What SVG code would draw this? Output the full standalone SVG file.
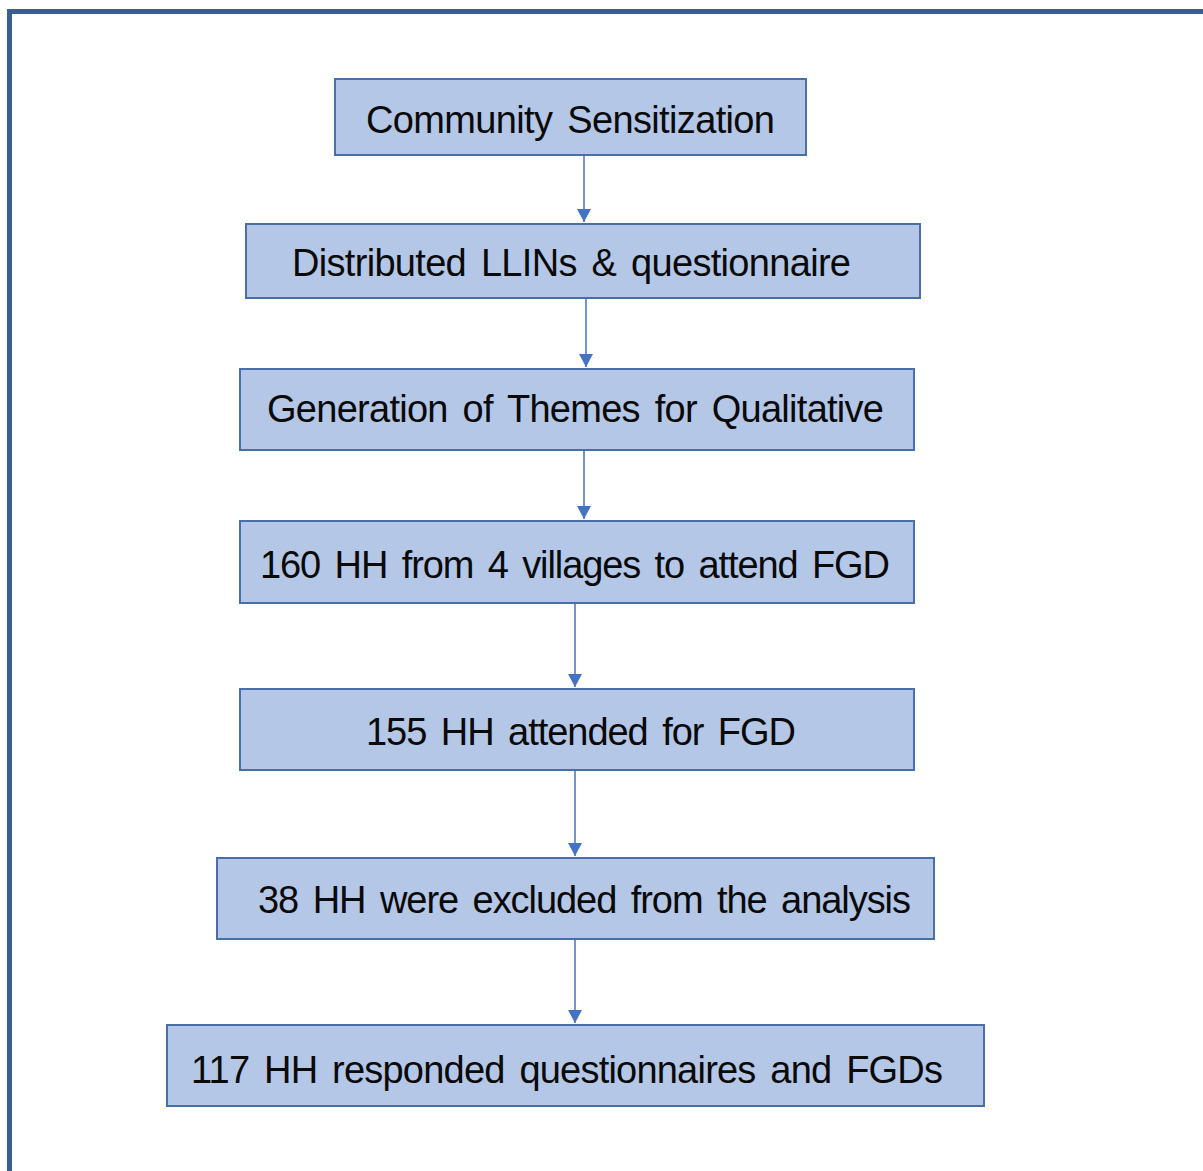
<svg xmlns="http://www.w3.org/2000/svg" width="1203" height="1171" viewBox="0 0 1203 1171">
<style>
.box{fill:#b4c7e7;stroke:#4a6ea8;stroke-width:2}
.t{font-family:"Liberation Sans",Arial,sans-serif;font-size:38px;fill:#0a0a0a;word-spacing:5px}
.c{stroke:#4472c4;stroke-width:1.5;fill:none;marker-end:url(#ah)}
</style>
<defs>
<marker id="ah" markerWidth="14" markerHeight="14" refX="13" refY="7" markerUnits="userSpaceOnUse" orient="auto" viewBox="0 0 14 14">
<path d="M0,0 L13,7 L0,14 Z" fill="#4472c4"/>
</marker>
</defs>
<rect width="1203" height="1171" fill="#fff"/>
<path d="M9.5,1171 V11.5 H1203" fill="none" stroke="#3a5f8c" stroke-width="5"/>
<g id="connectors">
<line class="c" x1="584" y1="155" x2="584" y2="222"/>
<line class="c" x1="586" y1="298" x2="586" y2="367"/>
<line class="c" x1="584" y1="450" x2="584" y2="519"/>
<line class="c" x1="575" y1="603" x2="575" y2="687"/>
<line class="c" x1="575" y1="770" x2="575" y2="856"/>
<line class="c" x1="575" y1="939" x2="575" y2="1023"/>
</g>
<g id="n1"><rect class="box" x="335" y="79" width="471" height="76"/><text class="t" x="366" y="133" textLength="409">Community Sensitization</text></g>
<g id="n2"><rect class="box" x="246" y="224" width="674" height="74"/><text class="t" x="292" y="276" textLength="559">Distributed LLINs &amp; questionnaire</text></g>
<g id="n3"><rect class="box" x="240" y="369" width="674" height="81"/><text class="t" x="267" y="422" textLength="617">Generation of Themes for Qualitative</text></g>
<g id="n4"><rect class="box" x="240" y="521" width="674" height="82"/><text class="t" x="260" y="578" textLength="630">160 HH from 4 villages to attend FGD</text></g>
<g id="n5"><rect class="box" x="240" y="689" width="674" height="81"/><text class="t" x="366" y="745" textLength="430">155 HH attended for FGD</text></g>
<g id="n6"><rect class="box" x="217" y="858" width="717" height="81"/><text class="t" x="258" y="913" textLength="653">38 HH were excluded from the analysis</text></g>
<g id="n7"><rect class="box" x="167" y="1025" width="817" height="81"/><text class="t" x="191" y="1083" textLength="752">117 HH responded questionnaires and FGDs</text></g>
</svg>
